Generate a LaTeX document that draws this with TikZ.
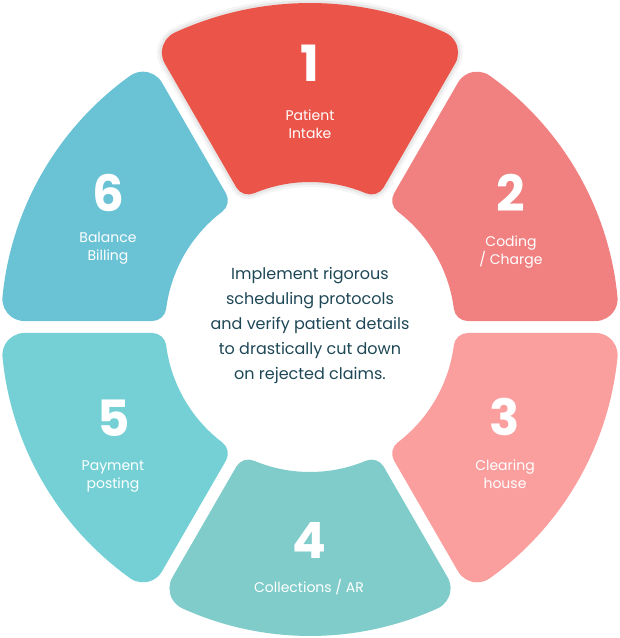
\documentclass[tikz,border=0pt]{standalone}
\usepackage{fontspec}
\setmainfont{Poppins}
\definecolor{segone}{HTML}{EB5448}
\definecolor{segtwo}{HTML}{F18181}
\definecolor{segthree}{HTML}{FB9E9E}
\definecolor{segfour}{HTML}{80CCCA}
\definecolor{segfive}{HTML}{74D0D5}
\definecolor{segsix}{HTML}{6AC2D5}
\definecolor{bodytext}{HTML}{1E4756}
% rounded ring sector: start angle, end angle, outer R, inner r, options
\newcommand\mysector[5]{%
  \def\gd{6}\def\ro{22}\def\ri{14}%
  \pgfmathsetmacro\phiA{asin((\gd+\ro)/(#3-\ro))}%
  \pgfmathsetmacro\psiA{asin((\gd+\ri)/(#4+\ri))}%
  \pgfmathsetmacro\Lo{(#3-\ro)*cos(\phiA)}%
  \pgfmathsetmacro\Li{(#4+\ri)*cos(\psiA)}%
  \pgfmathsetmacro\angO{atan(\gd/\Lo)}\pgfmathsetmacro\radO{\Lo/cos(\angO)}%
  \pgfmathsetmacro\angI{atan(\gd/\Li)}\pgfmathsetmacro\radI{\Li/cos(\angI)}%
  \path[#5] ({#1+\angI}:\radI) -- ({#1+\angO}:\radO)
    arc[start angle={#1-90}, end angle={#1+\phiA}, radius=\ro]
    arc[start angle={#1+\phiA}, end angle={#2-\phiA}, radius=#3]
    arc[start angle={#2-\phiA}, end angle={#2+90}, radius=\ro]
    -- ({#2-\angI}:\radI)
    arc[start angle={#2+90}, end angle={#2-\psiA+180}, radius=\ri]
    arc[start angle={#2-\psiA}, end angle={#1+\psiA}, radius=#4]
    arc[start angle={#1+\psiA+180}, end angle={#1+270}, radius=\ri]
    -- cycle;%
}
\newcommand\lab[2]{\vphantom{lg}#1\\#2\vphantom{lg}}
\tikzset{
  segfill/.style={fill=#1},
  num/.style={text=white, font=\fontsize{50}{50}\selectfont\bfseries, inner sep=0pt},
  lbl/.style={text=white, font=\fontsize{14}{18}\selectfont, align=center, inner sep=0pt},
  mid/.style={text=bodytext, font=\fontsize{16}{25}\selectfont, align=center, inner sep=0pt}
}
\begin{document}
\begin{tikzpicture}[x=1pt,y=1pt]
\useasboundingbox (-310,-311) rectangle (310,327);
% soft shadow of the raised segment
\mysector{60}{120}{324}{145}{draw=black, draw opacity=0.04, line width=10pt}
\mysector{60}{120}{324}{145}{draw=black, draw opacity=0.06, line width=5pt}
\mysector{60}{120}{324}{145}{segfill=segone}
\mysector{0}{60}{309}{145}{segfill=segtwo}
\mysector{-60}{0}{309}{145}{segfill=segthree}
\mysector{-120}{-60}{309}{145}{segfill=segfour}
\mysector{180}{240}{309}{145}{segfill=segfive}
\mysector{120}{180}{309}{145}{segfill=segsix}

\node[num] (n1) at (0,264) {1};
\node[num] (n2) at (201,134) {2};
\node[num] (n3) at (195,-90) {3};
\node[num] (n4) at (-1,-213) {4};
\node[num] (n5) at (-196,-91) {5};
\node[num] (n6) at (-202,134) {6};

\node[lbl] (l1) at (0,200.7) {\lab{Patient}{Intake}};
\node[lbl] (l2) at (201,75.4) {\lab{Coding}{/ Charge}};
\node[lbl] (l3) at (195,-149.3) {\lab{Clearing}{house}};
\node[lbl] (l4) at (-1,-260.6) {\vphantom{lg}Collections / AR};
\node[lbl] (l5) at (-197,-149.3) {\lab{Payment}{posting}};
\node[lbl] (l6) at (-202,79.1) {\lab{Balance}{Billing}};

\node[mid] (c) at (0,1.6) {Implement rigorous\\scheduling protocols\\and verify patient details\\to drastically cut down\\on rejected claims.};
\end{tikzpicture}
\end{document}
